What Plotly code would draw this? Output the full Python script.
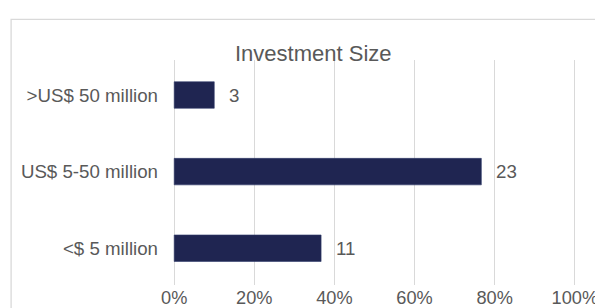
import plotly.graph_objects as go

categories = ["<$ 5 million", "US$ 5-50 million", ">US$ 50 million"]
counts = [11, 23, 3]
total_respondents = 30
shares = [c / total_respondents for c in counts]
tick_vals = [0, 0.2, 0.4, 0.6, 0.8, 1.0]
tick_text = ["0%", "20%", "40%", "60%", "80%", "100%"]
title_text = "Investment Size"

FONT = "Arial, 'Liberation Sans', sans-serif"
TXT = "#595959"
GRID = "#d9d9d9"
BAR = "#1f2551"

fig = go.Figure()
fig.add_trace(go.Bar(
    x=shares, y=categories, orientation="h",
    marker=dict(color=BAR, line=dict(color="#2f3a6a", width=0.6)),
    width=0.346, hoverinfo="skip",
))

for cat, val, cnt in zip(categories, shares, counts):
    fig.add_annotation(x=val, y=cat, text=str(cnt), showarrow=False,
                       xanchor="left", yanchor="middle", xshift=13,
                       font=dict(family=FONT, size=18.7, color=TXT))

fig.add_annotation(x=0.3486, y=1.031, xref="paper", yref="paper",
                   text=title_text, showarrow=False,
                   xanchor="center", yanchor="middle",
                   font=dict(family=FONT, size=22, color=TXT))

fig.add_shape(type="rect", xref="paper", yref="paper",
              x0=-0.4017, x1=1.2, y0=-0.3, y1=1.1802,
              line=dict(color=GRID, width=1.3), layer="below")

fig.update_layout(
    width=603, height=308,
    margin=dict(l=164.8, r=34.8, t=52, b=31.3),
    paper_bgcolor="white", plot_bgcolor="white",
    showlegend=False,
    font=dict(family=FONT, size=18.7, color=TXT),
    xaxis=dict(range=[-0.003, 1.003], tickvals=tick_vals, ticktext=tick_text,
               showgrid=True, gridcolor=GRID, gridwidth=1.3,
               zeroline=False, showline=False, ticks="",
               ticklabelstandoff=0, automargin=False, fixedrange=True,
               tickfont=dict(size=18.2)),
    yaxis=dict(range=[-0.48, 2.457], showgrid=False, zeroline=False,
               showline=False, ticks="", ticklabelstandoff=14,
               automargin=False, fixedrange=True),
)

fig.write_html("out.html")
